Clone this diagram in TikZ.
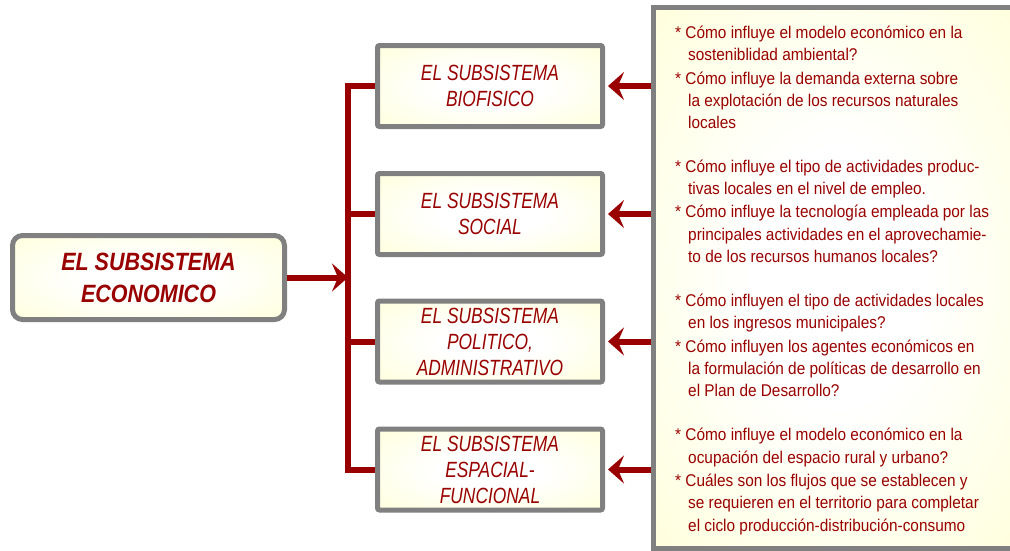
\documentclass[tikz,border=0pt]{standalone}
\usepackage{fontspec}
\setmainfont{Liberation Sans}
\newfontfamily\panelfont[FakeStretch=0.905]{Liberation Sans}
\newfontfamily\subfont[FakeStretch=0.79]{Liberation Sans}
\newfontfamily\econfont[FakeStretch=0.86]{Liberation Sans}
\usetikzlibrary{arrows.meta,shadings}
\definecolor{dred}{RGB}{153,0,0}
\definecolor{bgray}{RGB}{128,128,128}
\definecolor{lyel}{RGB}{255,255,170}
\pgfdeclareradialshading{softglow}{\pgfpoint{0bp}{0bp}}{color(0bp)=(white); color(12bp)=(white); color(71bp)=(lyel)}
\tikzset{
  subbox/.style={draw=bgray, line width=5pt, shading=softglow, minimum width=225pt, minimum height=81pt,
    rounded corners=2pt, align=center, text=dred, inner sep=0pt,
    font=\subfont\itshape\fontsize{22}{26}\selectfont},
  econbox/.style={draw=bgray, line width=5pt, shading=softglow, minimum width=272pt, minimum height=84pt,
    rounded corners=10pt, align=center, text=dred, inner sep=0pt,
    font=\econfont\bfseries\itshape\fontsize{25}{32}\selectfont},
  panelbox/.style={draw=bgray, line width=5pt, shading=softglow, minimum width=366.5pt, minimum height=540.5pt, inner sep=0pt},
  conn/.style={draw=dred, line width=6pt},
  arr/.style={conn, -{Stealth[length=16pt,width=28pt,inset=6pt]}},
  ptext/.style={anchor=base west, inner sep=0pt, text=dred, font=\panelfont\fontsize{17}{20}\selectfont}
}
\begin{document}
\begin{tikzpicture}[x=1pt,y=-1pt]
\useasboundingbox (0,0) rectangle (1010,550);
\begin{scope}
  \clip (0,0) rectangle (1010,550);
  \node[panelbox] (panel) at (836.75,277.75) {};
\end{scope}

\node[econbox] (econ) at (148.5,277.5) {EL SUBSISTEMA\\ECONOMICO};
\node[subbox] (b1) at (490,86) {EL SUBSISTEMA\\BIOFISICO};
\node[subbox] (b2) at (490,214) {EL SUBSISTEMA\\SOCIAL};
\node[subbox] (b3) at (490,341.5) {EL SUBSISTEMA\\POLITICO,\\ADMINISTRATIVO};
\node[subbox] (b4) at (490,469.5) {EL SUBSISTEMA\\ESPACIAL-\\FUNCIONAL};

\coordinate (trunk) at (348,0);
\draw[conn, line join=miter] (b1.west) -- (b1.west -| trunk) -- (b4.west -| trunk) -- (b4.west);
\draw[conn] (b2.west -| trunk) -- (b2.west);
\draw[conn] (b3.west -| trunk) -- (b3.west);
\draw[arr] (econ.east) -- (econ.east -| trunk);

\draw[arr, shorten >=3pt] (panel.west |- b1.east) -- (b1.east);
\draw[arr, shorten >=3pt] (panel.west |- b2.east) -- (b2.east);
\draw[arr, shorten >=3pt] (panel.west |- b3.east) -- (b3.east);
\draw[arr, shorten >=3pt] (panel.west |- b4.east) -- (b4.east);

% block 1
\node[ptext] (t11) at (675,38) {* Cómo influye el modelo económico en la};
\node[ptext] (t12) at (688,60) {sosteniblidad ambiental?};
\node[ptext] (t13) at (675,84) {* Cómo influye la demanda externa sobre};
\node[ptext] (t14) at (688,106) {la explotación de los recursos naturales};
\node[ptext] (t15) at (688,128) {locales};
% block 2
\node[ptext] (t21) at (675,172) {* Cómo influye el tipo de actividades produc-};
\node[ptext] (t22) at (688,194) {tivas locales en el nivel de empleo.};
\node[ptext] (t23) at (675,217) {* Cómo influye la tecnología empleada por las};
\node[ptext] (t24) at (688,240) {principales actividades en el aprovechamie-};
\node[ptext] (t25) at (688,262) {to de los recursos humanos locales?};
% block 3
\node[ptext] (t31) at (675,306) {* Cómo influyen el tipo de actividades locales};
\node[ptext] (t32) at (688,328) {en los ingresos municipales?};
\node[ptext] (t33) at (675,352) {* Cómo influyen los agentes económicos en};
\node[ptext] (t34) at (688,374) {la formulación de políticas de desarrollo en};
\node[ptext] (t35) at (688,396) {el Plan de Desarrollo?};
% block 4
\node[ptext] (t41) at (675,440) {* Cómo influye el modelo económico en la};
\node[ptext] (t42) at (688,463) {ocupación del espacio rural y urbano?};
\node[ptext] (t43) at (675,486) {* Cuáles son los flujos que se establecen y};
\node[ptext] (t44) at (688,508) {se requieren en el territorio para completar};
\node[ptext] (t45) at (688,531) {el ciclo producción-distribución-consumo};
\end{tikzpicture}
\end{document}
